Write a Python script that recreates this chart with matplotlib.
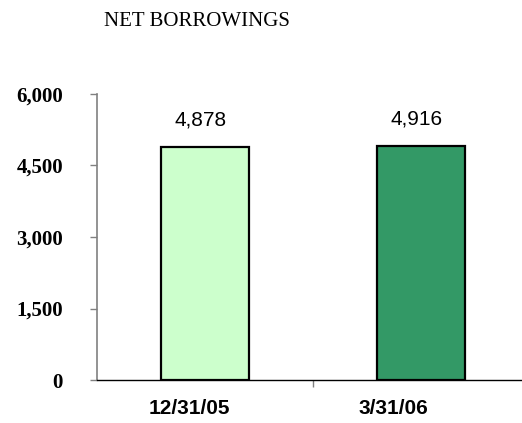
import matplotlib.pyplot as plt
from matplotlib.transforms import ScaledTranslation

# quarter-end net borrowings
periods = ["12/31/05", "3/31/06"]
borrowings = [4878, 4916]
bar_colors = ["#CCFFCC", "#339966"]
yticks = [0, 1500, 3000, 4500, 6000]

fig = plt.figure(figsize=(5.22, 4.23), dpi=100)
ax = fig.add_axes([97 / 522, 43 / 423, 425 / 522, 286 / 423])

x = list(range(len(periods)))
ax.bar(x, borrowings, width=0.41, color=bar_colors, edgecolor="black", linewidth=1.6)

for xi, v in zip(x, borrowings):
    ax.annotate(f"{v:,}", (xi, v), xytext=(-3.5, 19.5), textcoords="offset points",
                ha="center", va="center", fontsize=15, family="Liberation Sans")

ax.set_xlim(-0.5, 0.5 + 209 / 216)
ax.set_ylim(0, 6000)
ax.set_yticks(yticks)
ax.set_yticklabels([f"{t:,}" for t in yticks], family="Liberation Serif",
                   fontweight="bold", fontsize=15)
ax.tick_params(axis="y", direction="out", length=5, width=1, color="#808080", pad=19.5)

# category labels sit between minor ticks at the category boundaries
ax.set_xticks(x)
ax.set_xticklabels(periods, family="Liberation Sans", fontweight="bold", fontsize=15)
ax.tick_params(axis="x", which="major", length=0, pad=14)
for lbl, dx in zip(ax.get_xticklabels(), [-16, -28]):
    lbl.set_transform(lbl.get_transform() + ScaledTranslation(dx / 100, 0, fig.dpi_scale_trans))
ax.set_xticks([0.5], minor=True)
ax.tick_params(axis="x", which="minor", direction="out", length=5, width=1, color="#808080")

for s in ["top", "right"]:
    ax.spines[s].set_visible(False)
ax.spines["left"].set_color("#808080")
ax.spines["left"].set_linewidth(1.2)
ax.spines["bottom"].set_color("black")
ax.spines["bottom"].set_linewidth(1)

fig.text(197 / 522, 1 - 21 / 423, "NET BORROWINGS", ha="center", va="center",
         family="Liberation Serif", fontsize=15)

fig.savefig("out.png", dpi=100)
